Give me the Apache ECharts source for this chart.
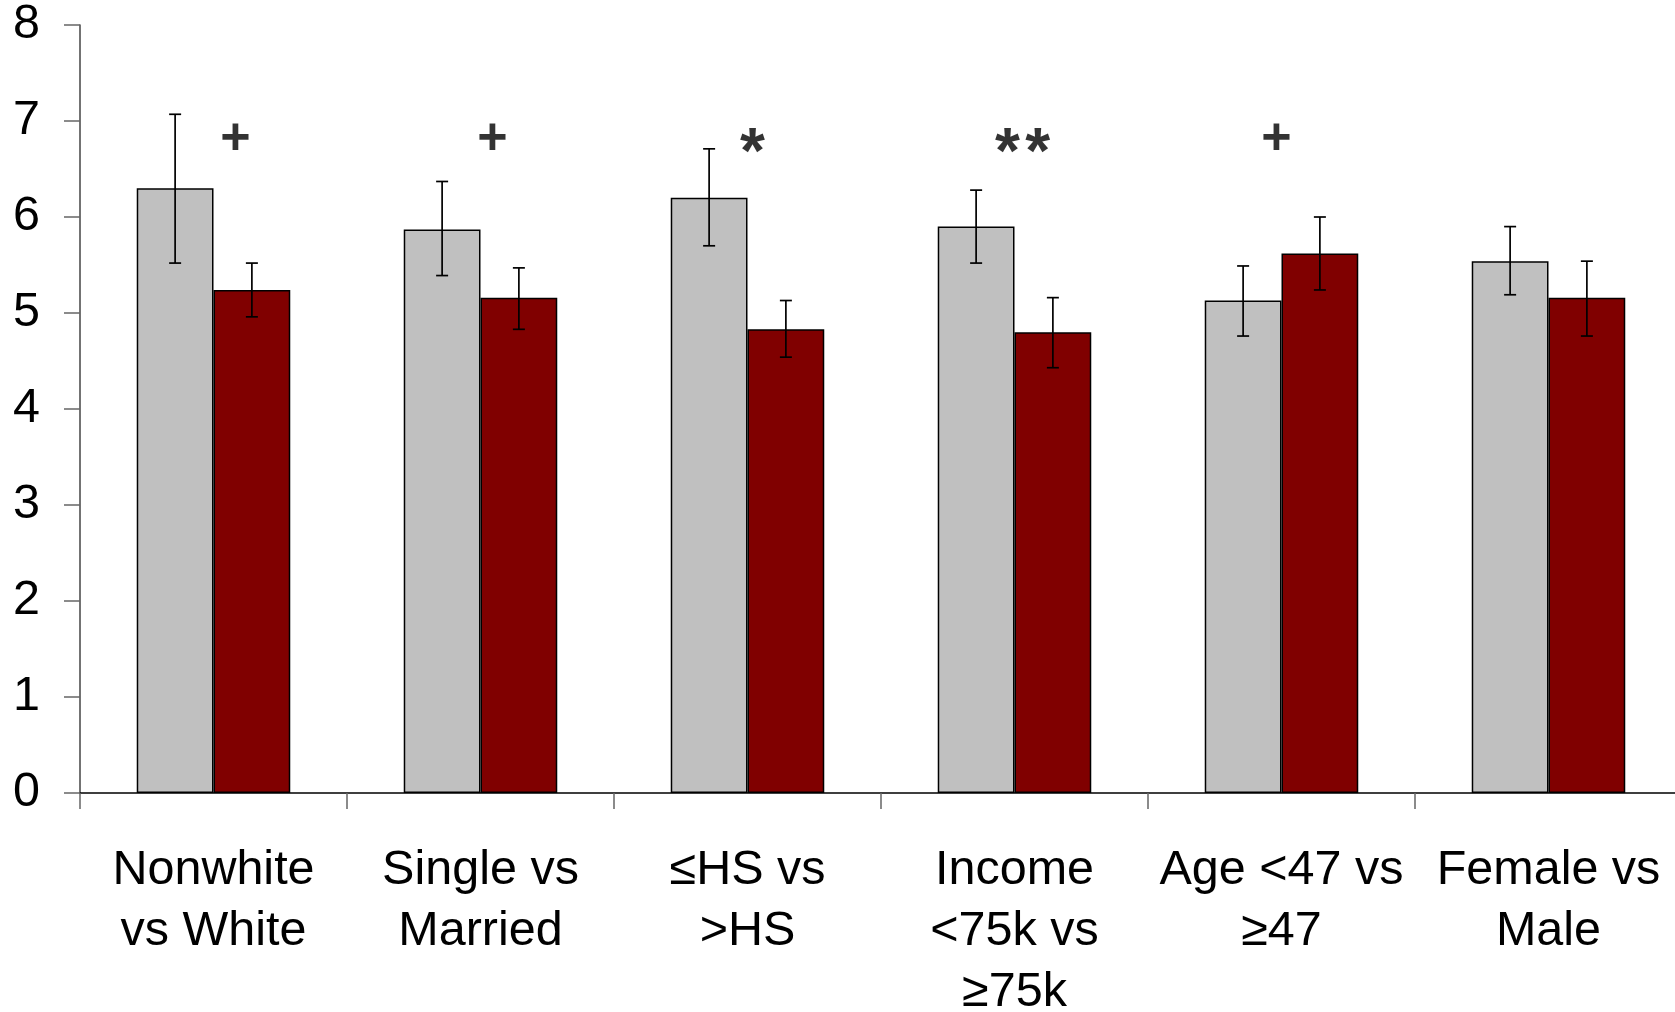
<!DOCTYPE html>
<html>
<head>
<meta charset="utf-8">
<title>Group comparisons</title>
<script src="https://cdn.jsdelivr.net/npm/echarts@6/dist/echarts.min.js"></script>
<style>
  html, body { margin: 0; padding: 0; background: #fff; overflow: hidden; }
  #chart { width: 1675px; height: 1012px; }
</style>
</head>
<body>
<div id="chart"></div>
<script>
// Comparison groups along the x axis
const categories = [
  'Nonwhite\nvs White',
  'Single vs\nMarried',
  '\u2264HS vs\n>HS',
  'Income\n<75k vs\n\u226575k',
  'Age <47 vs\n\u226547',
  'Female vs\nMale'
];

// First group of each pair (grey bars) and second group (dark red bars)
const firstGroup  = [6.30, 5.87, 6.20, 5.90, 5.13, 5.54];
const secondGroup = [5.24, 5.16, 4.83, 4.80, 5.62, 5.16];

// Error bar limits
const firstLow   = [5.52, 5.39, 5.70, 5.52, 4.76, 5.19];
const firstHigh  = [7.07, 6.37, 6.71, 6.28, 5.49, 5.90];
const secondLow  = [4.96, 4.83, 4.54, 4.43, 5.24, 4.76];
const secondHigh = [5.52, 5.47, 5.13, 5.16, 6.00, 5.54];

// Significance markers for each comparison
const significance = ['+', '+', '*', '*\u200A*', '+', ''];
const markerLevel = 6.81;

// Y axis ticks
const yTicks = [0, 1, 2, 3, 4, 5, 6, 7, 8];

// ---- layout / style ----
const FONT = "'Liberation Sans', Arial, Helvetica, sans-serif";
const GAP_PCT = 42.5;                       // category gap in percent
const BAR_FRAC = (1 - GAP_PCT / 100) / 2;   // share of band per bar
const markerShift = [22, 12, 5, 8, -5, 0];   // horizontal nudge of markers (px)

function errorBarRenderer(sideSign) {
  return function (params, api) {
    const idx = api.value(0);
    const lo = api.coord([idx, api.value(1)]);
    const hi = api.coord([idx, api.value(2)]);
    const band = api.size([1, 0])[0];
    const x = lo[0] + sideSign * band * BAR_FRAC / 2;
    const cap = 6;
    const style = { stroke: '#000', lineWidth: 1.7 };
    return {
      type: 'group',
      children: [
        { type: 'line', shape: { x1: x, y1: hi[1], x2: x, y2: lo[1] }, style: style },
        { type: 'line', shape: { x1: x - cap, y1: hi[1], x2: x + cap, y2: hi[1] }, style: style },
        { type: 'line', shape: { x1: x - cap, y1: lo[1], x2: x + cap, y2: lo[1] }, style: style }
      ]
    };
  };
}

const markerData = significance.map((s, i) => {
  const star = s.indexOf('*') >= 0;
  return {
    value: [i, markerLevel],
    label: {
      show: s !== '',
      formatter: s,
      offset: [markerShift[i], star ? 16 : 0],
      fontSize: star ? 64 : 52
    }
  };
});

const chart = echarts.init(document.getElementById('chart'), null, { renderer: 'canvas' });

chart.setOption({
  animation: false,
  backgroundColor: '#fff',
  textStyle: { fontFamily: FONT },
  grid: {
    left: 80, right: -7, top: 25, bottom: 219,
    containLabel: false,
    outerBoundsMode: 'none'
  },
  xAxis: {
    type: 'category',
    data: categories,
    boundaryGap: true,
    axisLine: { show: true, lineStyle: { color: '#000', width: 1.5 } },
    axisTick: { show: true, length: 16, alignWithLabel: false, interval: 0, lineStyle: { color: '#666', width: 1.5 } },
    axisLabel: {
      interval: 0, margin: 47, color: '#000',
      fontFamily: FONT, fontSize: 48.5, lineHeight: 61, align: 'center'
    },
    splitLine: { show: false }
  },
  yAxis: {
    type: 'value',
    min: yTicks[0],
    max: yTicks[yTicks.length - 1],
    interval: 1,
    axisLine: { show: true, lineStyle: { color: '#444', width: 1.5 } },
    axisTick: { show: true, length: 16, lineStyle: { color: '#666', width: 1.5 } },
    axisLabel: { margin: 40, color: '#000', fontFamily: FONT, fontSize: 48.5, padding: [7, 0, 0, 0] },
    splitLine: { show: false }
  },
  series: [
    {
      name: 'first', type: 'bar', data: firstGroup,
      barGap: '0%', barCategoryGap: GAP_PCT + '%',
      itemStyle: { color: '#C0C0C0', borderColor: '#000', borderWidth: 1.5 },
      z: 2
    },
    {
      name: 'second', type: 'bar', data: secondGroup,
      barGap: '0%', barCategoryGap: GAP_PCT + '%',
      itemStyle: { color: '#800000', borderColor: '#000', borderWidth: 1.5 },
      z: 2
    },
    {
      name: 'firstErr', type: 'custom',
      renderItem: errorBarRenderer(-1),
      data: firstGroup.map((_, i) => [i, firstLow[i], firstHigh[i]]),
      encode: { x: 0, y: [1, 2] },
      z: 5
    },
    {
      name: 'secondErr', type: 'custom',
      renderItem: errorBarRenderer(1),
      data: secondGroup.map((_, i) => [i, secondLow[i], secondHigh[i]]),
      encode: { x: 0, y: [1, 2] },
      z: 5
    },
    {
      name: 'markers', type: 'scatter',
      symbolSize: 0,
      data: markerData,
      label: {
        show: true, position: 'inside', color: '#000',
        fontFamily: FONT, fontWeight: 'bold'
      },
      z: 6
    }
  ]
});
</script>
</body>
</html>
